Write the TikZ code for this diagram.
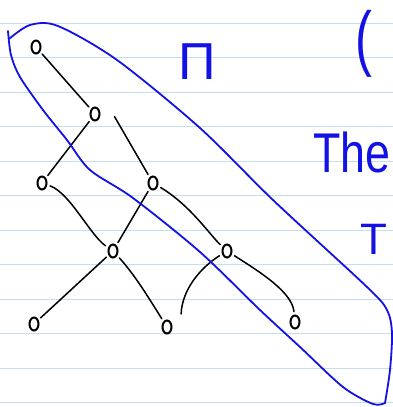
\documentclass[tikz,border=0pt]{standalone}
\usepackage{fontspec}
\setmainfont{Liberation Sans}
\usetikzlibrary{shapes.geometric}
\definecolor{rule}{RGB}{196,222,238}
\definecolor{ink}{RGB}{18,18,228}
\tikzset{
  vtx/.style={draw=black, ellipse, line width=2pt, minimum width=9pt, minimum height=13pt, inner sep=0pt},
  edge/.style={black, line width=1.5pt, line cap=round, shorten <=3pt, shorten >=3pt},
  ruled/.style={rule, line width=1.2pt},
  lasso/.style={ink, line width=1.8pt, line cap=round, line join=round},
  hand/.style={text=ink, inner sep=0pt}
}
\begin{document}
\begin{tikzpicture}[x=1pt,y=-1pt]
\useasboundingbox (0,0) rectangle (393,407);
\clip (0,0) rectangle (393,407);
\fill[white] (0,0) rectangle (393,407);
% ruled paper
\foreach \k in {0,...,11} {
  \draw[ruled] (0,{23.3+34.5*\k}) -- (393,{23.3+34.5*\k});
}
% vertices
\node[vtx] (A) at (36,47) {};
\node[vtx] (B) at (95,114) {};
\node[vtx] (C) at (42,183) {};
\node[vtx] (D) at (153,183) {};
\node[vtx] (E) at (113,251) {};
\node[vtx] (F) at (227,251) {};
\node[vtx] (G) at (34,324) {};
\node[vtx] (H) at (167,327) {};
\node[vtx] (I) at (295,322) {};
% edges
\draw[edge] (A) -- (B);
\draw[edge] (B) -- (C);
\draw[edge] ([shift={(18,0)}]B.center) -- (D);
\draw[edge] (C) .. controls (70,193) and (90,235) .. (E);
\draw[edge] (D) -- (E);
\draw[edge] (D) .. controls (190,205) and (210,235) .. (F);
\draw[edge] (E) -- (G);
\draw[edge] (E) .. controls (135,275) and (150,300) .. (H);
\draw[edge] ([shift={(14,-10)}]H.center) .. controls (182,290) and (200,268) .. (F);
\draw[edge] (F) .. controls (260,272) and (292,292) .. (I);
% lasso
\draw[lasso] plot[smooth, tension=0.5] coordinates {(8,31) (11,55) (20,77) (43,110) (67,140) (90,170) (133,198) (200,252) (260,310) (300,347) (343,387) (373,404) (385,403)};
\draw[lasso] plot[smooth, tension=0.5] coordinates {(385,403) (390,370) (392,333) (387,310) (367,287) (273,200) (200,128) (117,60) (58,26) (30,25) (9,39)};
% handwritten text
\node[hand, anchor=base west, font=\fontsize{52}{52}\selectfont] (t1) at (178,79) {Π};
\node[hand, anchor=base west, xscale=0.7, font=\fontsize{72}{72}\selectfont] (t2) at (355,62) {(};
\node[hand, anchor=base west, xscale=0.8, font=\fontsize{56}{56}\selectfont] (t3) at (313,172) {The};
\node[hand, anchor=base west, font=\fontsize{44}{44}\selectfont] (t4) at (360,254) {T};
\end{tikzpicture}
\end{document}
